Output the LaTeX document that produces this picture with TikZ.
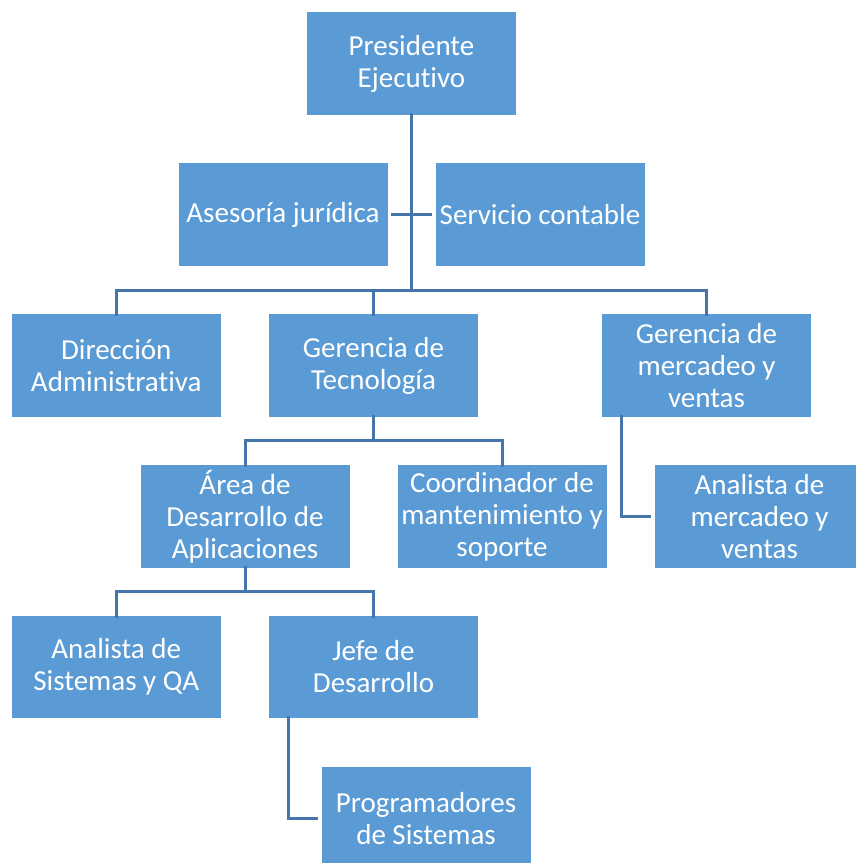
\documentclass[tikz,border=0pt]{standalone}
\usepackage{fontspec}
\setmainfont{Carlito}[Ligatures=NoCommon]
\definecolor{boxblue}{HTML}{5B9BD5}
\definecolor{linkblue}{HTML}{4675A9}
\begin{document}
\begin{tikzpicture}[x=1pt,y=-1pt,
  unit/.style={draw=white, line width=0.8pt, fill=boxblue, text=white,
    minimum width=210pt, minimum height=103.5pt, inner sep=0pt,
    align=center, font=\fontsize{29}{32}\selectfont},
  link/.style={draw=linkblue, line width=3pt}]
\useasboundingbox (0,0) rectangle (856,863);
\clip (0,0) rectangle (856,863);

% boxes
\node[unit] (pres)   at (411.5,63.5)  {Presidente\\Ejecutivo};
\node[unit] (ase)    at (283,214.5)   {Asesoría jurídica};
\node[unit] (serv)   at (540,214.5)   {Servicio contable};
\node[unit] (dir)    at (116.25,365.5){Dirección\\Administrativa};
\node[unit] (ger)    at (373.5,365.5) {Gerencia de\\Tecnología};
\node[unit] (merc)   at (706.5,365.5) {Gerencia de\\mercadeo y\\ventas};
\node[unit] (area)   at (245,516.5)   {Área de\\Desarrollo de\\Aplicaciones};
\node[unit] (coord)  at (502,516.5)   {Coordinador de\\mantenimiento y\\soporte};
\node[unit] (anmerc) at (759.5,516.5) {Analista de\\mercadeo y\\ventas};
\node[unit] (anqa)   at (116.25,666.75){Analista de\\Sistemas y QA};
\node[unit] (jefe)   at (373.5,666.75){Jefe de\\Desarrollo};
\node[unit] (prog)   at (426,818.5)   {Programadores\\de Sistemas};

% junction points
\coordinate (top)  at (411.5,290);
\coordinate (gbus) at (373.5,440.5);
\coordinate (abus) at (245,591.5);

% president trunk and assistants
\draw[link] ([yshift=3pt]pres.south) -- (top);
\draw[link] ([xshift=3pt]ase.east) -- ([xshift=-3pt]serv.west);

% first level
\draw[link] ([yshift=-3pt]dir.north) |- (top) -| ([yshift=-3pt]merc.north);
\draw[link] ([yshift=-3pt]ger.north) -- (ger.north |- top);

% technology branch
\draw[link] ([yshift=3pt]ger.south) -- (gbus);
\draw[link] ([yshift=-3pt]area.north) |- (gbus) -| ([yshift=-3pt]coord.north);

% applications branch
\draw[link] ([yshift=3pt]area.south) -- (abus);
\draw[link] ([yshift=-3pt]anqa.north) |- (abus) -| ([yshift=-3pt]jefe.north);

% side reports
\draw[link] ([xshift=-85pt,yshift=3pt]merc.south) |- ([xshift=-3pt]anmerc.west);
\draw[link] ([xshift=-85pt,yshift=3pt]jefe.south) |- ([xshift=-3pt]prog.west);
\end{tikzpicture}
\end{document}
